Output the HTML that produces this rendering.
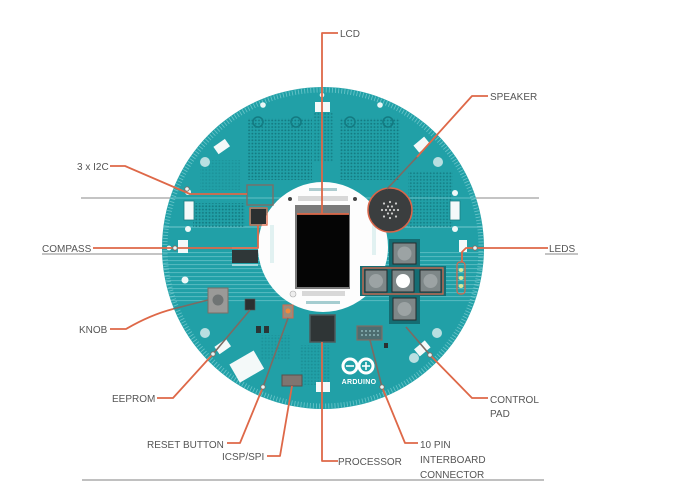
<!DOCTYPE html>
<html><head><meta charset="utf-8"><style>
html,body{margin:0;padding:0;background:#fff;}
svg{display:block;}
text{font-family:"Liberation Sans",Arial,sans-serif;font-size:10px;fill:#555;}
</style></head><body>
<svg width="694" height="482" viewBox="0 0 694 482" xmlns="http://www.w3.org/2000/svg">
<defs>
<pattern id="dots" width="3.3" height="3.3" patternUnits="userSpaceOnUse">
<circle cx="1.6" cy="1.6" r="0.95" fill="#137a81"/>
</pattern>
<pattern id="stripes" width="4" height="4" patternUnits="userSpaceOnUse">
<rect x="0" y="0" width="4" height="1.1" fill="#8fd6d9"/>
</pattern>
<clipPath id="board"><circle cx="323" cy="248" r="161"/></clipPath>
</defs>
<rect width="694" height="482" fill="#fff"/>

<!-- scan lines -->
<line x1="81" y1="198" x2="539" y2="198" stroke="#8a8a8a" stroke-width="1"/>
<line x1="42" y1="254" x2="165" y2="254" stroke="#8a8a8a" stroke-width="1"/>
<line x1="545" y1="254" x2="578" y2="254" stroke="#8a8a8a" stroke-width="1"/>
<line x1="82" y1="480" x2="544" y2="480" stroke="#9a9a9a" stroke-width="1.2"/>

<!-- board -->
<circle cx="323" cy="248" r="161" fill="#21a0a7"/>
<circle cx="323" cy="248" r="158" fill="none" stroke="#7ccdd1" stroke-width="5" stroke-dasharray="0.9 2.2" opacity="0.75"/>
<g clip-path="url(#board)">
<rect x="160" y="252" width="330" height="50" fill="url(#stripes)" opacity="0.45"/>
<line x1="160" y1="198" x2="490" y2="198" stroke="#8fd6d9" stroke-width="1" opacity="0.6"/>
<line x1="160" y1="227" x2="490" y2="227" stroke="#8fd6d9" stroke-width="1.5" opacity="0.5"/>
</g>

<!-- dot grids -->
<rect x="248" y="118" width="64" height="62" fill="url(#dots)"/>
<rect x="340" y="118" width="60" height="62" fill="url(#dots)"/>
<rect x="313" y="112" width="20" height="50" fill="url(#dots)" opacity="0.8"/>
<rect x="193" y="203" width="52" height="24" fill="url(#dots)"/>
<rect x="408" y="172" width="45" height="55" fill="url(#dots)" opacity="0.85"/>
<rect x="200" y="160" width="40" height="30" fill="url(#dots)" opacity="0.35"/>
<rect x="300" y="345" width="30" height="40" fill="url(#dots)" opacity="0.45"/>
<rect x="260" y="335" width="30" height="25" fill="url(#dots)" opacity="0.35"/>
<circle cx="258" cy="122" r="5" fill="none" stroke="#137a81" stroke-width="1.5"/>
<circle cx="296" cy="122" r="5" fill="none" stroke="#137a81" stroke-width="1.5"/>
<circle cx="350" cy="122" r="5" fill="none" stroke="#137a81" stroke-width="1.5"/>
<circle cx="388" cy="122" r="5" fill="none" stroke="#137a81" stroke-width="1.5"/>

<!-- holes / white parts -->
<circle cx="263" cy="105" r="2.8" fill="#e8f6f6"/>
<circle cx="380" cy="105" r="2.8" fill="#e8f6f6"/>
<circle cx="322" cy="95" r="2.3" fill="#e8f6f6"/>
<rect x="315" y="102" width="15" height="10" fill="#f4f9f9"/>
<rect x="215" y="142" width="14" height="9" fill="#f4f9f9" transform="rotate(-35 222 147)"/>
<rect x="415" y="140" width="14" height="9" fill="#f4f9f9" transform="rotate(-40 422 145)"/>
<circle cx="205" cy="162" r="5" fill="#b9dfe1"/>
<circle cx="438" cy="162" r="5" fill="#b9dfe1"/>
<circle cx="188" cy="192" r="3" fill="#eef8f8"/>
<circle cx="188" cy="229" r="3" fill="#eef8f8"/>
<rect x="184" y="201" width="10" height="19" fill="#f4f9f9" stroke="#1a7d84" stroke-width="0.8"/>
<circle cx="455" cy="193" r="3" fill="#eef8f8"/>
<circle cx="455" cy="229" r="3" fill="#eef8f8"/>
<rect x="450" y="201" width="10" height="19" fill="#f4f9f9" stroke="#1a7d84" stroke-width="0.8"/>
<rect x="178" y="240" width="10" height="13" fill="#f4f9f9"/>
<circle cx="169" cy="248" r="2.4" fill="#eef8f8"/>
<circle cx="185" cy="280" r="3.5" fill="#eef8f8"/>
<circle cx="205" cy="333" r="5" fill="#b9dfe1"/>
<rect x="216" y="342" width="14" height="9" fill="#f4f9f9" transform="rotate(-35 223 347)"/>
<rect x="233" y="356" width="28" height="21" fill="#f4f9f9" transform="rotate(-30 247 367)"/>
<rect x="316" y="382" width="14" height="10" fill="#f4f9f9"/>
<circle cx="437" cy="333" r="5" fill="#b9dfe1"/>
<circle cx="414" cy="358" r="5" fill="#b9dfe1"/>
<rect x="415" y="344" width="14" height="9" fill="#f4f9f9" transform="rotate(-40 422 348)"/>
<rect x="256" y="326" width="5" height="7" fill="#2a3536"/>
<rect x="264" y="326" width="5" height="7" fill="#2a3536"/>

<!-- compass area chip -->
<rect x="232" y="250" width="26" height="13" fill="#2f3738"/>
<rect x="232" y="247" width="26" height="2" fill="#bfe4e6" opacity="0.8"/>
<rect x="232" y="264" width="26" height="2" fill="#bfe4e6" opacity="0.8"/>

<!-- inner white circle + LCD module -->
<circle cx="323" cy="247" r="65" fill="#fdfdfd"/>
<rect x="309" y="188" width="28" height="3" fill="#8ab7bb" opacity="0.7"/>
<rect x="298" y="196" width="50" height="5" fill="#d8d8d8"/>
<circle cx="290" cy="199" r="2" fill="#444"/>
<circle cx="355" cy="199" r="2" fill="#444"/>
<rect x="295" y="205" width="55" height="84" fill="#7a7a7a"/>
<rect x="297" y="214" width="52" height="73" fill="#050505"/>
<rect x="302" y="291" width="43" height="5" fill="#d8d8d8"/>
<circle cx="293" cy="294" r="3" fill="#eee" stroke="#aaa" stroke-width="0.6"/>
<rect x="306" y="301" width="34" height="3" fill="#7fb8bc" opacity="0.7"/>
<rect x="270" y="225" width="4" height="38" fill="#cfe9ea" opacity="0.6"/>
<rect x="372" y="225" width="4" height="30" fill="#cfe9ea" opacity="0.6"/>

<!-- compass chip -->
<rect x="251" y="209" width="15" height="15" fill="#2b3031"/>
<!-- I2C box -->
<rect x="247" y="185" width="26" height="20" fill="none" stroke="#7c6e66" stroke-width="1.4"/>

<!-- speaker -->
<circle cx="390" cy="210" r="22" fill="#3b3e3f" stroke="#d9664a" stroke-width="1.5"/>
<g fill="#cfcfcf">
<circle cx="390" cy="210" r="1.1"/>
<circle cx="394" cy="210" r="1.1"/><circle cx="386" cy="210" r="1.1"/>
<circle cx="392" cy="206.5" r="1.1"/><circle cx="388" cy="206.5" r="1.1"/>
<circle cx="392" cy="213.5" r="1.1"/><circle cx="388" cy="213.5" r="1.1"/>
<circle cx="398" cy="210" r="1.1"/><circle cx="382" cy="210" r="1.1"/>
<circle cx="396" cy="203.5" r="1.1"/><circle cx="384" cy="203.5" r="1.1"/>
<circle cx="396" cy="216.5" r="1.1"/><circle cx="384" cy="216.5" r="1.1"/>
<circle cx="390" cy="202" r="1.1"/><circle cx="390" cy="218" r="1.1"/>
</g>

<!-- LEDs -->
<rect x="459" y="240" width="8" height="12" fill="#f4f9f9"/>
<rect x="457" y="262" width="8" height="32" rx="3" fill="none" stroke="#d9664a" stroke-width="1.2"/>
<ellipse cx="461" cy="270" rx="2.5" ry="2" fill="#d7e89a"/>
<ellipse cx="461" cy="278" rx="2.5" ry="2" fill="#d7e89a"/>
<ellipse cx="461" cy="286" rx="2.5" ry="2" fill="#d7e89a"/>

<!-- control pad -->
<rect x="360" y="266" width="86" height="30" fill="#156d73"/>
<rect x="389" y="239" width="31" height="85" fill="#156d73"/>
<rect x="363" y="268" width="80" height="26" fill="none" stroke="#d9664a" stroke-width="1.3"/>
<g stroke="#262b2c" stroke-width="1">
<rect x="393" y="243" width="23" height="21" fill="#7e8788"/>
<rect x="365" y="270" width="22" height="22" fill="#7e8788"/>
<rect x="392" y="270" width="22" height="22" fill="#7e8788"/>
<rect x="420" y="270" width="21" height="22" fill="#7e8788"/>
<rect x="393" y="298" width="23" height="22" fill="#7e8788"/>
</g>
<g fill="#9ca3a4">
<circle cx="404.5" cy="253.5" r="7"/>
<circle cx="376" cy="281" r="7"/>
<circle cx="430.5" cy="281" r="7"/>
<circle cx="404.5" cy="309" r="7"/>
</g>
<circle cx="403" cy="281" r="7" fill="#ffffff"/>

<!-- chips -->
<rect x="208" y="288" width="20" height="25" fill="#9a9a98" stroke="#7c6e66" stroke-width="1"/>
<circle cx="218" cy="300" r="5.5" fill="#6f7474"/>
<rect x="245" y="299" width="10" height="11" fill="#2b3031" stroke="#555" stroke-width="0.6"/>
<rect x="283" y="305" width="10" height="13" fill="#9a8c7c" stroke="#d9664a" stroke-width="1"/>
<circle cx="288" cy="311" r="2.5" fill="#f08a3c"/>
<rect x="310" y="315" width="25" height="27" fill="#2f3536" stroke="#4d5a5b" stroke-width="1.5"/>
<rect x="282" y="375" width="20" height="11" fill="#7f7570" stroke="#5b504b" stroke-width="1"/>
<rect x="357" y="326" width="25" height="14" fill="#4d6d70" stroke="#7c6e66" stroke-width="1.2"/>
<g fill="#9fc8cb"><circle cx="362" cy="331" r="0.9"/><circle cx="366" cy="331" r="0.9"/><circle cx="370" cy="331" r="0.9"/><circle cx="374" cy="331" r="0.9"/><circle cx="378" cy="331" r="0.9"/><circle cx="362" cy="335" r="0.9"/><circle cx="366" cy="335" r="0.9"/><circle cx="370" cy="335" r="0.9"/><circle cx="374" cy="335" r="0.9"/><circle cx="378" cy="335" r="0.9"/></g>
<rect x="384" y="343" width="4" height="5" fill="#2b3031"/>

<!-- arduino logo -->
<g fill="none" stroke="#ffffff" stroke-width="3">
<circle cx="350" cy="366" r="7"/>
<circle cx="366" cy="366" r="7"/>
</g>
<g stroke="#ffffff" stroke-width="1.6">
<line x1="346" y1="366" x2="354" y2="366"/>
<line x1="362" y1="366" x2="370" y2="366"/>
<line x1="366" y1="362" x2="366" y2="370"/>
</g>
<text x="359" y="384" text-anchor="middle" style="font-size:7px;font-weight:bold;fill:#ffffff;letter-spacing:0.3px">ARDUINO</text>

<!-- connectors: orange -->
<g fill="none" stroke="#de6848" stroke-width="1.8" stroke-linejoin="round">
<path d="M338,33 H322 V214"/>
<line x1="297" y1="214" x2="349" y2="214"/>
<path d="M488,96 H472 L417,157"/>
<path d="M110,166 H125 L190,194 H247"/>
<path d="M93,248 H258 V225"/>
<path d="M548,248 H466 L462,252 V262"/>
<path d="M110,329 H126 Q150,315 173,309"/>
<path d="M157,398 H173 L213,354"/>
<path d="M227,443 H240 L263,387"/>
<path d="M267,456 H280 L292,386"/>
<path d="M338,461 H322 V342"/>
<path d="M418,443 H405 L382,387"/>
<path d="M488,398 H472 L430,355"/>
</g>
<!-- connectors on board (muted) -->
<g fill="none" stroke="#7d6a62" stroke-width="1.6">
<path d="M417,157 L387,189"/>
<path d="M173,309 L208,300"/>
<path d="M213,354 L250,310"/>
<path d="M263,387 L288,318"/>
<path d="M382,387 L370,340"/>
<path d="M430,355 L406,327"/>
</g>
<rect x="250" y="208" width="17" height="17" fill="none" stroke="#de6848" stroke-width="1.3"/>
<g fill="#e8f4f4" stroke="#7d6a62" stroke-width="0.8">
<circle cx="213" cy="354" r="2.2"/>
<circle cx="263" cy="387" r="2.2"/>
<circle cx="382" cy="387" r="2.2"/>
<circle cx="430" cy="355" r="2.2"/>
<circle cx="475" cy="248" r="2.2"/>
<circle cx="175" cy="248" r="2.2"/>
<circle cx="187" cy="189" r="2.2"/>
</g>

<!-- labels -->
<text x="340" y="37">LCD</text>
<text x="490" y="100">SPEAKER</text>
<text x="77" y="170">3 x I2C</text>
<text x="42" y="252">COMPASS</text>
<text x="549" y="252">LEDS</text>
<text x="79" y="333">KNOB</text>
<text x="112" y="402">EEPROM</text>
<text x="147" y="448">RESET BUTTON</text>
<text x="222" y="460">ICSP/SPI</text>
<text x="338" y="465">PROCESSOR</text>
<text x="420" y="448">10 PIN</text>
<text x="420" y="463">INTERBOARD</text>
<text x="420" y="478">CONNECTOR</text>
<text x="490" y="403">CONTROL</text>
<text x="490" y="417">PAD</text>
</svg>
</body></html>
